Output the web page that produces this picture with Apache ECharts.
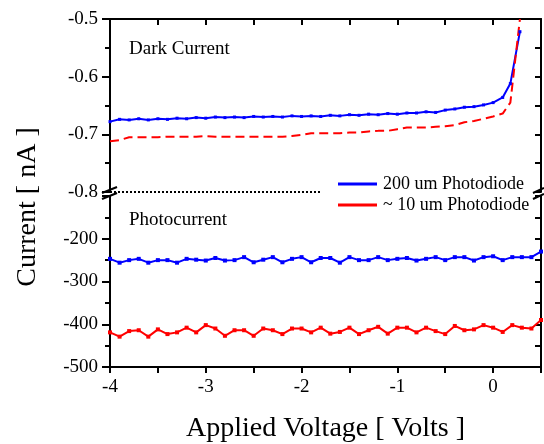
<!DOCTYPE html>
<html>
<head>
<meta charset="utf-8">
<script src="https://cdn.jsdelivr.net/npm/echarts@6/dist/echarts.min.js"></script>
<style>
  html, body { margin: 0; padding: 0; background: #fff; }
  #chart { width: 544px; height: 444px; }
</style>
</head>
<body>
<div id="chart"></div>
<script>
// dark current (nA)
const darkVolts = [-4.0, -3.9, -3.8, -3.7, -3.6, -3.5, -3.4, -3.3, -3.2, -3.1,
  -3.0, -2.9, -2.8, -2.7, -2.6, -2.5, -2.4, -2.3, -2.2, -2.1,
  -2.0, -1.9, -1.8, -1.7, -1.6, -1.5, -1.4, -1.3, -1.2, -1.1,
  -1.0, -0.9, -0.8, -0.7, -0.6, -0.5, -0.4, -0.3, -0.2, -0.1,
  0.0, 0.1, 0.18, 0.28]
const dark200 = [-0.678, -0.674, -0.675, -0.673, -0.675, -0.673, -0.674, -0.672, -0.673, -0.671,
  -0.672, -0.670, -0.671, -0.670, -0.671, -0.669, -0.670, -0.669, -0.670, -0.668,
  -0.669, -0.668, -0.669, -0.667, -0.668, -0.666, -0.667, -0.665, -0.666, -0.664,
  -0.665, -0.663, -0.663, -0.661, -0.662, -0.658, -0.656, -0.653, -0.652, -0.649,
  -0.645, -0.636, -0.612, -0.522]
const dark10 = [-0.712, -0.710, -0.705, -0.705, -0.705, -0.705, -0.704, -0.704, -0.704, -0.704,
  -0.703, -0.704, -0.704, -0.704, -0.704, -0.704, -0.704, -0.704, -0.704, -0.703,
  -0.701, -0.698, -0.698, -0.698, -0.698, -0.697, -0.697, -0.695, -0.694, -0.694,
  -0.691, -0.688, -0.688, -0.688, -0.687, -0.686, -0.684, -0.679, -0.677, -0.673,
  -0.669, -0.664, -0.645, -0.500]

// dotted line along the break
const breakVolts = [-4.0, -1.8]
const breakLevel = [-0.8, -0.8]

// photocurrent (nA), lower panel
const photoVolts = [-4.0, -3.9, -3.8, -3.7, -3.6, -3.5, -3.4, -3.3, -3.2, -3.1,
  -3.0, -2.9, -2.8, -2.7, -2.6, -2.5, -2.4, -2.3, -2.2, -2.1,
  -2.0, -1.9, -1.8, -1.7, -1.6, -1.5, -1.4, -1.3, -1.2, -1.1,
  -1.0, -0.9, -0.8, -0.7, -0.6, -0.5, -0.4, -0.3, -0.2, -0.1,
  0.0, 0.1, 0.2, 0.3, 0.4, 0.5]
const photo200 = [-247, -256, -250, -247, -256, -250, -250, -256, -247, -249,
  -251, -245, -251, -250, -243, -255, -249, -243, -255, -247,
  -243, -255, -245, -245, -256, -243, -250, -250, -243, -250,
  -247, -245, -251, -247, -243, -250, -243, -243, -251, -243,
  -241, -250, -243, -243, -243, -230]
const photo10 = [-419, -429, -416, -414, -429, -412, -423, -419, -408, -419,
  -402, -410, -427, -414, -414, -427, -410, -414, -423, -410,
  -410, -419, -408, -422, -418, -408, -423, -414, -406, -422,
  -408, -408, -419, -408, -416, -423, -404, -414, -412, -402,
  -408, -418, -402, -408, -410, -390]

const name200 = '200 um Photodiode'
const name10 = '~ 10 um Photodiode'

const font = 'Liberation Serif'
const pairs = (xs, ys) => xs.map((x, i) => [x, ys[i]])

const chart = echarts.init(document.getElementById('chart'))

// shared bits for the frame axes
const line2 = { show: true, onZero: false, lineStyle: { color: '#000', width: 2 } }
const noSplit = { show: false }

chart.setOption({
  animation: false,
  grid: [
    { left: 110, right: 3, top: 19, height: 173 },
    { left: 110, right: 3, top: 196, height: 172 }
  ],
  xAxis: [
    {
      gridIndex: 0, type: 'value', position: 'top', min: -4, max: 0.5, interval: 0.5,
      axisLine: line2, axisTick: { inside: true, length: 6, lineStyle: { width: 2 } },
      axisLabel: { show: false }, splitLine: noSplit
    },
    {
      gridIndex: 1, type: 'value', position: 'bottom', min: -4, max: 0.5, interval: 0.5,
      axisLine: line2, axisTick: { length: 6, lineStyle: { width: 2 } },
      axisLabel: {
        color: '#000', fontFamily: font, fontSize: 19, margin: 11,
        formatter: v => Number.isInteger(v) ? String(v) : ''
      },
      splitLine: noSplit,
      name: 'Applied Voltage [ Volts ]', nameLocation: 'middle', nameGap: 48,
      nameTextStyle: { color: '#000', fontFamily: font, fontSize: 28 }
    }
  ],
  yAxis: [
    {
      gridIndex: 0, type: 'value', min: -0.8, max: -0.5, interval: 0.1,
      axisLine: line2, axisTick: { length: 8, lineStyle: { width: 2 } },
      minorTick: { show: true, splitNumber: 2, length: 5, lineStyle: { color: '#000', width: 2 } },
      axisLabel: { color: '#000', fontFamily: font, fontSize: 19, margin: 12, formatter: v => v.toFixed(1) },
      splitLine: noSplit
    },
    {
      gridIndex: 0, type: 'value', position: 'right', min: -0.8, max: -0.5, interval: 0.05,
      axisLine: line2, axisTick: { inside: true, length: 6, lineStyle: { width: 2 } },
      axisLabel: { show: false }, splitLine: noSplit
    },
    {
      gridIndex: 1, type: 'value', min: -500, max: -100, interval: 100,
      axisLine: line2, axisTick: { length: 8, lineStyle: { width: 2 } },
      minorTick: { show: true, splitNumber: 2, length: 5, lineStyle: { color: '#000', width: 2 } },
      axisLabel: {
        color: '#000', fontFamily: font, fontSize: 19, margin: 12,
        formatter: v => v === -100 ? '' : String(v)
      },
      splitLine: noSplit
    },
    {
      gridIndex: 1, type: 'value', position: 'right', min: -500, max: -100, interval: 50,
      axisLine: line2, axisTick: { inside: true, length: 6, lineStyle: { width: 2 } },
      axisLabel: { show: false }, splitLine: noSplit
    }
  ],
  legend: {
    left: 333, top: 170, orient: 'vertical', itemGap: 3,
    itemWidth: 39, itemHeight: 3, icon: 'rect',
    data: [name200, name10],
    textStyle: { color: '#000', fontFamily: font, fontSize: 18, padding: [0, 0, 0, 1] }
  },
  series: [
    {
      name: name200, type: 'line', xAxisIndex: 0, yAxisIndex: 0,
      data: pairs(darkVolts, dark200), color: '#0000ff',
      symbol: 'rect', symbolSize: 3, lineStyle: { width: 2 }
    },
    {
      name: name10, type: 'line', xAxisIndex: 0, yAxisIndex: 0,
      data: pairs(darkVolts, dark10), color: '#ff0000',
      showSymbol: false, lineStyle: { width: 2, type: [9, 5] }
    },
    {
      name: 'break', type: 'line', xAxisIndex: 0, yAxisIndex: 0,
      data: pairs(breakVolts, breakLevel), color: '#000',
      showSymbol: false, lineStyle: { width: 2, type: [2, 2] }
    },
    {
      name: name200, type: 'line', xAxisIndex: 1, yAxisIndex: 2,
      data: pairs(photoVolts, photo200), color: '#0000ff',
      symbol: 'rect', symbolSize: 4, lineStyle: { width: 2 }
    },
    {
      name: name10, type: 'line', xAxisIndex: 1, yAxisIndex: 2,
      data: pairs(photoVolts, photo10), color: '#ff0000',
      symbol: 'rect', symbolSize: 4, lineStyle: { width: 2 }
    }
  ],
  graphic: [
    // y axis title
    {
      type: 'text', x: 28, y: 207, rotation: Math.PI / 2,
      style: { text: 'Current [ nA ]', fill: '#000', font: '28px "Liberation Serif"', textAlign: 'center', textVerticalAlign: 'middle' }
    },
    { type: 'text', left: 129, top: 40, style: { text: 'Dark Current', fill: '#000', font: '19px "Liberation Serif"' } },
    { type: 'text', left: 129, top: 211, style: { text: 'Photocurrent', fill: '#000', font: '19px "Liberation Serif"' } },
    // axis break marks
    { type: 'line', shape: { x1: 102, y1: 193, x2: 117, y2: 187 }, style: { stroke: '#000', lineWidth: 2 } },
    { type: 'line', shape: { x1: 102, y1: 199, x2: 117, y2: 193 }, style: { stroke: '#000', lineWidth: 2 } },
    { type: 'line', shape: { x1: 533, y1: 193, x2: 544, y2: 188 }, style: { stroke: '#000', lineWidth: 2 } },
    { type: 'line', shape: { x1: 533, y1: 199, x2: 544, y2: 194 }, style: { stroke: '#000', lineWidth: 2 } }
  ]
})
</script>
</body>
</html>
